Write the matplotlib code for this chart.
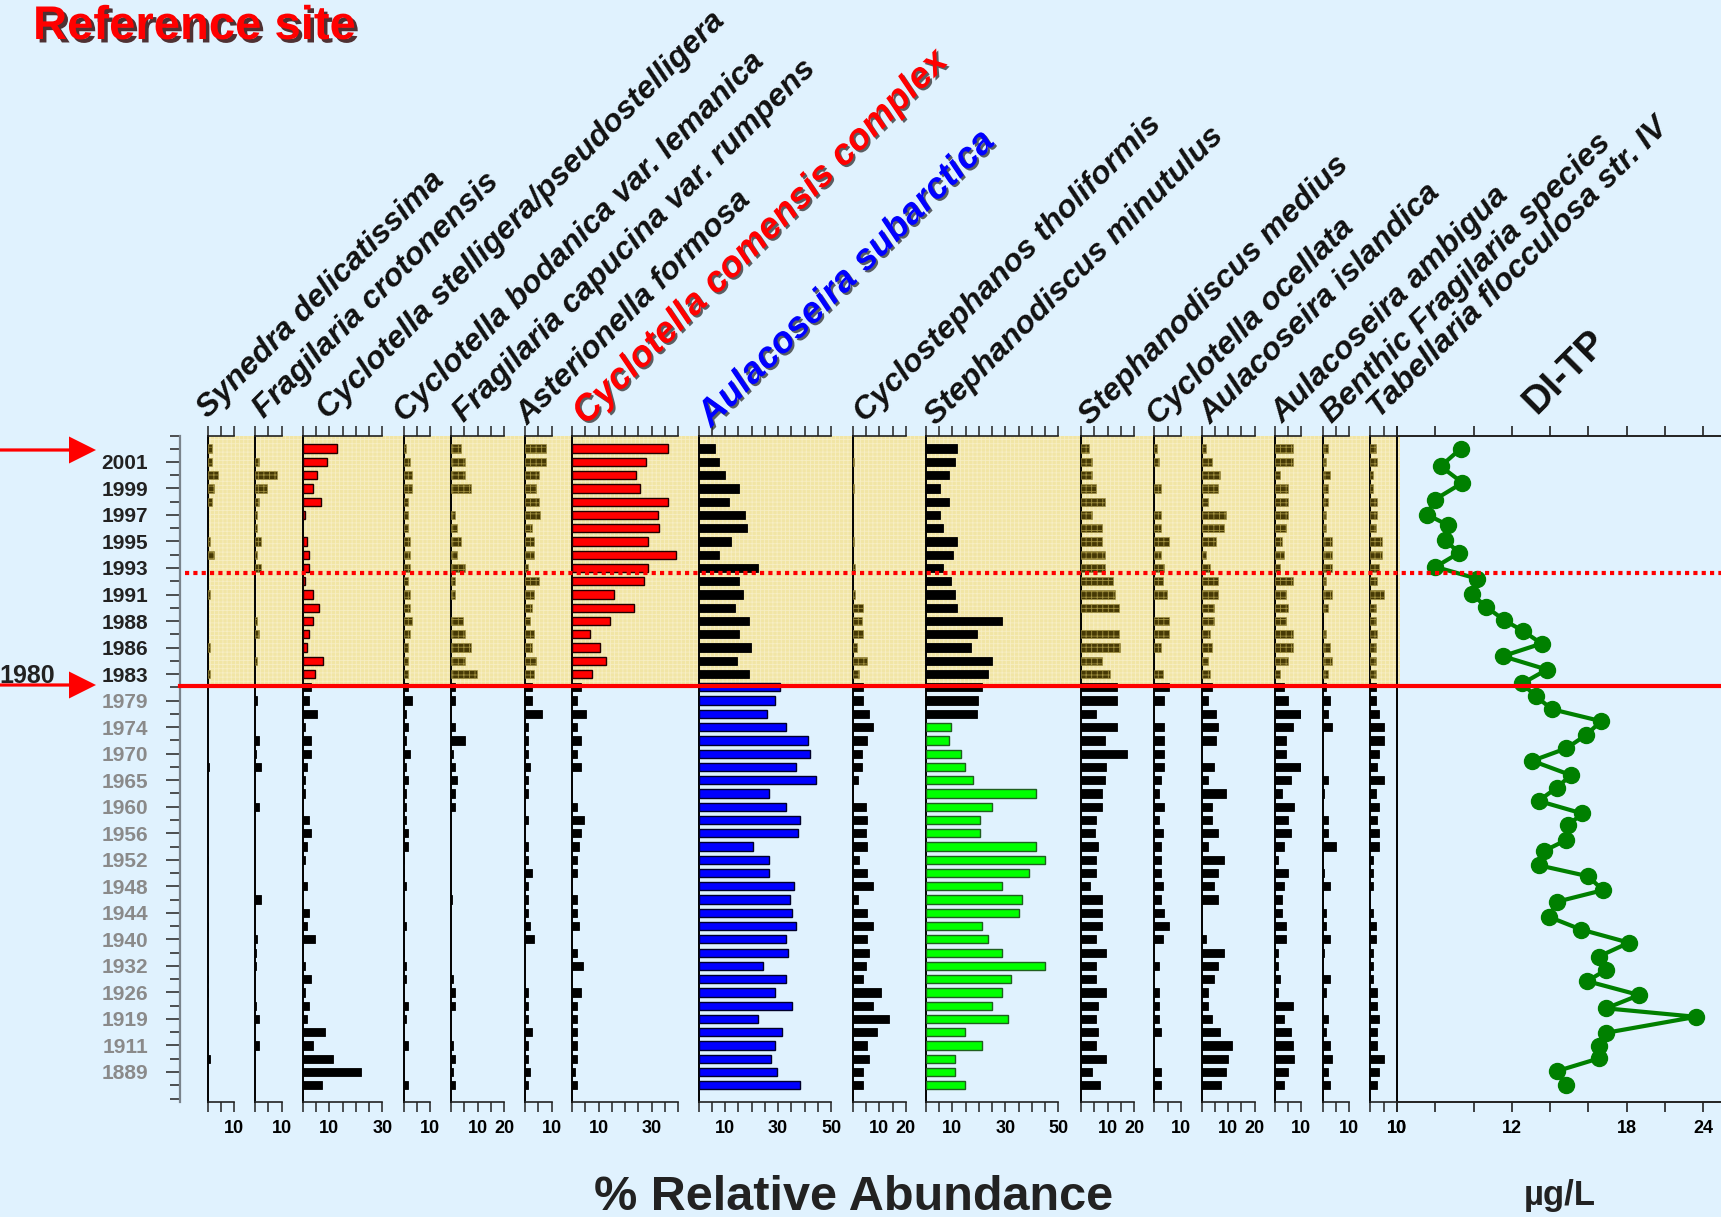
import numpy as np
import matplotlib
matplotlib.use("Agg")
import matplotlib.pyplot as plt
from matplotlib.patches import Rectangle, Polygon
from matplotlib.lines import Line2D
from matplotlib.transforms import blended_transform_factory
from matplotlib.ticker import FixedLocator, FuncFormatter, NullFormatter
import matplotlib.patheffects as pe

plt.rcParams["font.family"] = ["Liberation Sans", "DejaVu Sans"]
plt.rcParams["font.weight"] = "bold"
plt.rcParams["hatch.linewidth"] = 0.6

# ---------------------------------------------------------------- data
# sample ages labelled on every second sample (samples 1, 3, 5, ...)
year_labels = ["2001", "1999", "1997", "1995", "1993", "1991", "1988", "1986",
               "1983", "1979", "1974", "1970", "1965", "1960", "1956", "1952",
               "1948", "1944", "1940", "1932", "1926", "1919", "1911", "1889"]

# % relative abundance, top sample (0) to bottom sample (48)
synedra = [1.5, 1.5, 3.8, 2.3, 1.5, 0, 0, 0.9, 2.3, 0, 0, 0.8, 0, 0, 0, 0.8, 0, 0.8, 0, 0,
           0, 0, 0, 0, 0.4, 0, 0, 0, 0, 0, 0, 0.3, 0, 0, 0, 0, 0.3, 0, 0, 0,
           0.3, 0.3, 0, 0, 0, 0.3, 0.9, 0, 0]
frag_croton = [0, 1.5, 8.3, 4.4, 1.5, 0.8, 0.8, 2.3, 0.8, 2.3, 0, 0, 0, 0.8, 1.5, 0, 0.8, 0, 0, 0.9,
               0, 0, 1.5, 0.4, 2.3, 0, 0, 1.5, 0, 0, 0, 0, 0, 0, 2.3, 0, 0, 0.8, 0.4, 0.4,
               0, 0, 0.4, 1.5, 0, 1.5, 0, 0, 0]
cyc_stelligera = [12.9, 9.1, 5.3, 3.8, 6.8, 0.8, 0, 1.5, 2.3, 2.3, 0.8, 3.8, 6.1, 3.8, 2.3, 1.5, 7.6, 4.6, 3.0, 2.3,
                  5.4, 0.8, 3.0, 3.0, 1.5, 0.8, 0.8, 0, 2.4, 3.2, 1.6, 0.8, 0, 1.6, 0, 2.4, 1.6, 4.7, 0, 0.8,
                  3.2, 0.8, 2.4, 1.6, 8.4, 3.9, 11.4, 22.0, 7.1]
cyc_bodanica = [0.8, 2.3, 3.0, 3.0, 1.5, 1.5, 1.5, 2.3, 2.3, 2.3, 1.5, 2.3, 2.3, 3.0, 2.3, 1.5, 1.5, 1.5, 1.5, 3.0,
                0.8, 1.5, 0.8, 2.3, 0.8, 1.5, 0.8, 0.8, 0.8, 1.5, 1.5, 0.3, 0.3, 0.8, 0, 0, 0.8, 0, 0.3, 0.8,
                0.8, 0, 1.5, 0.8, 0, 1.5, 0, 0, 1.5]
frag_capucina = [3.8, 5.3, 5.3, 7.6, 0, 1.5, 2.3, 3.8, 2.3, 5.3, 1.5, 1.5, 0, 4.6, 5.3, 7.6, 5.3, 9.9, 1.5, 1.5,
                 0, 1.5, 5.3, 0.8, 1.5, 2.3, 1.5, 1.5, 0, 0, 0, 0, 0, 0, 0.3, 0, 0, 0, 0, 0,
                 0.8, 1.5, 1.5, 0, 0, 0.8, 1.5, 0.8, 1.5]
asterionella = [8.1, 8.1, 5.1, 4.3, 5.1, 5.8, 2.8, 3.5, 3.5, 1.2, 5.1, 3.5, 2.8, 2.0, 3.5, 2.8, 4.3, 3.5, 2.8, 2.8,
                6.6, 1.2, 1.2, 1.2, 2.0, 1.2, 1.2, 0, 1.2, 0, 1.2, 1.2, 2.8, 1.2, 1.2, 1.2, 2.0, 3.5, 0, 0,
                0, 1.2, 1.2, 1.2, 2.8, 1.2, 1.2, 2.0, 1.2]
cyc_comensis = [36.1, 28.0, 24.2, 25.7, 36.1, 32.3, 33.0, 28.7, 39.1, 28.7, 27.2, 15.8, 23.4, 14.3, 6.7, 10.5, 12.8, 7.5, 3.3, 1.8,
                5.3, 1.8, 3.3, 1.8, 3.3, 0, 0, 1.8, 4.4, 3.3, 2.5, 1.8, 1.8, 0, 1.8, 1.8, 2.5, 0, 1.8, 4.0,
                0, 3.3, 1.8, 1.8, 1.8, 1.8, 1.8, 1.0, 1.8]
aul_subarctica = [6.3, 7.8, 10.1, 15.3, 11.6, 17.6, 18.4, 12.3, 7.8, 22.6, 15.3, 16.9, 13.8, 19.0, 15.3, 19.7, 14.6, 19.0, 30.9, 28.7,
                  25.7, 33.1, 41.4, 42.1, 36.9, 44.3, 26.4, 33.1, 38.4, 37.6, 20.4, 26.4, 26.4, 36.1, 34.6, 35.3, 36.9, 33.1, 33.8, 24.2,
                  33.1, 28.7, 35.3, 22.6, 31.6, 28.7, 27.2, 29.4, 38.4]
cst_tholiformis = [0, 0.4, 0, 0.4, 0, 0, 0, 0.4, 0, 1.0, 0, 1.0, 4.0, 3.3, 4.0, 1.5, 5.5, 2.5, 4.0, 4.0,
                   6.3, 7.8, 5.5, 3.3, 3.3, 1.8, 0, 4.8, 5.5, 4.8, 5.5, 2.5, 5.5, 7.8, 1.8, 5.5, 7.8, 5.5, 6.3, 4.8,
                   4.0, 10.7, 7.8, 13.7, 9.3, 5.5, 6.3, 4.0, 4.0]
ste_minutulus = [11.6, 10.8, 8.6, 5.5, 8.6, 5.5, 6.3, 11.6, 10.1, 6.3, 9.3, 10.8, 11.6, 28.7, 19.1, 16.9, 24.9, 23.4, 21.1, 19.6,
                 19.1, 9.3, 8.6, 13.1, 14.6, 17.6, 41.4, 24.8, 20.4, 20.4, 41.4, 45.0, 39.0, 28.6, 36.1, 35.3, 21.1, 23.3, 28.6, 45.0,
                 32.3, 28.6, 24.8, 30.8, 14.6, 21.1, 10.8, 10.8, 14.6]
ste_medius = [2.9, 4.3, 4.3, 5.8, 8.9, 4.3, 8.1, 8.1, 8.9, 8.9, 11.9, 12.7, 14.2, 0, 14.2, 14.9, 8.1, 11.1, 13.4, 13.4,
              5.8, 13.4, 8.9, 17.2, 9.6, 9.0, 8.1, 8.1, 5.8, 5.1, 6.6, 5.8, 5.8, 3.5, 8.1, 8.1, 8.1, 5.8, 9.6, 5.8,
              5.8, 9.6, 6.6, 5.8, 6.6, 5.8, 9.6, 4.3, 7.3]
cyc_ocellata = [1.0, 1.8, 0, 2.4, 0, 2.4, 2.4, 5.4, 2.4, 3.8, 3.3, 4.8, 0, 5.4, 5.4, 2.4, 0, 3.3, 5.4, 3.8,
                0, 3.8, 3.8, 3.8, 3.8, 2.4, 1.8, 3.8, 1.8, 3.3, 2.4, 2.4, 2.4, 3.3, 2.4, 3.8, 5.4, 3.3, 0, 1.8,
                0, 1.8, 1.8, 1.8, 2.4, 0, 0, 2.4, 2.4]
aul_islandica = [1.6, 4.0, 6.8, 6.0, 2.3, 9.1, 8.3, 5.3, 1.6, 3.1, 6.0, 6.0, 4.6, 4.6, 3.1, 4.0, 2.3, 3.1, 4.0, 2.3,
                 5.3, 6.0, 5.3, 0, 4.6, 2.3, 9.1, 4.0, 4.0, 6.0, 2.3, 8.3, 6.0, 4.6, 6.0, 0, 0, 1.7, 8.3, 6.0,
                 4.6, 2.3, 2.3, 4.0, 6.8, 11.4, 10.0, 9.1, 7.5]
aul_ambigua = [6.7, 6.7, 2.1, 5.1, 5.1, 5.1, 4.4, 2.8, 3.6, 2.1, 6.7, 4.4, 5.1, 4.4, 6.7, 6.7, 5.1, 2.1, 3.6, 5.1,
               9.8, 6.7, 4.4, 4.4, 10.5, 6.0, 2.8, 7.4, 5.1, 6.0, 3.6, 1.3, 5.1, 3.6, 2.8, 2.8, 4.4, 4.4, 1.3, 1.3,
               2.1, 1.3, 6.7, 3.6, 6.0, 6.7, 7.4, 5.1, 3.6]
benthic_frag = [2.0, 1.3, 2.8, 2.0, 2.0, 1.3, 1.3, 3.6, 3.6, 3.6, 1.3, 3.6, 2.0, 0, 1.3, 2.8, 3.6, 2.0, 1.3, 2.8,
                2.0, 3.6, 0, 0, 0, 2.1, 0.6, 0, 2.1, 2.1, 5.1, 0, 0.6, 2.8, 0, 1.4, 1.4, 2.8, 0.6, 0,
                2.8, 1.4, 0, 2.1, 1.4, 2.8, 3.7, 2.1, 2.8]
tabellaria = [2.0, 2.7, 1.1, 1.1, 2.7, 2.7, 2.0, 4.3, 4.3, 3.4, 2.7, 5.0, 2.0, 2.0, 2.7, 2.0, 2.0, 2.0, 2.0, 2.0,
              3.4, 5.0, 5.0, 3.4, 2.7, 5.0, 2.0, 3.4, 2.7, 3.4, 3.4, 1.1, 1.1, 1.1, 0, 1.1, 2.0, 2.0, 1.1, 1.1,
              1.1, 2.7, 2.7, 3.4, 2.7, 2.7, 5.0, 3.4, 2.7]

# diatom-inferred total phosphorus (ug/L) and its sample positions
ditp_depth = [0, 1.33, 2.58, 3.84, 4.97, 5.78, 6.86, 7.86, 8.92, 9.80,
              10.98, 11.93, 12.94, 13.77, 14.70, 15.65, 16.66, 17.71, 18.67, 19.65,
              20.55, 21.6, 22.6, 23.54, 24.62, 25.58, 26.56, 27.51, 28.39, 29.52,
              30.33, 31.41, 32.24, 33.29, 34.17, 35.3, 36.26, 37.25, 38.3, 39.3,
              40.15, 41.2, 42.2, 42.84, 44.05, 45.03, 45.98, 46.94, 47.99]
ditp_tp = [11.11, 10.76, 11.14, 10.66, 10.52, 10.89, 10.83, 11.08, 10.67, 11.39,
           11.31, 11.55, 11.87, 12.60, 13.55, 11.84, 13.83, 12.54, 13.25, 14.09,
           16.66, 15.87, 14.84, 13.06, 15.08, 14.33, 13.39, 15.67, 14.94, 14.82,
           13.69, 13.39, 15.97, 16.76, 14.34, 13.93, 15.61, 18.17, 16.53, 16.92,
           15.93, 18.97, 16.92, 23.43, 16.90, 16.53, 16.53, 14.34, 14.84]
tp_tick_labels = [10, 12, 18, 24]

# zone boundaries (sample positions)
zone_1980 = 17.9
zone_1993 = 9.35

# ---------------------------------------------------------------- layout
W, H, DPI = 1721, 1217, 100
BG = "#E0F2FE"
SHADE = "#F1E5A5"
TOP_PX, BOT_PX = 436.0, 1101.7
YLIM = (49.24, -0.95)
PX_PER_PCT = 2.65
BAR_H = 0.62
TITLE_SHIFT = 12
TITLE_SIZE = 23
TITLE_SIZE_KEY = 26.5


def fx(px):
    return px / W


def fy(py):
    return 1.0 - py / H


AX_B = fy(BOT_PX)
AX_H = (BOT_PX - TOP_PX) / H

STYLES = {
    "tex": dict(facecolor="#463905", edgecolor="#a08f3e", hatch="+++", linewidth=0.4),
    "red": dict(facecolor="#FF0000", edgecolor="#200000", linewidth=1.0),
    "black": dict(facecolor="black", edgecolor="black", linewidth=0.6),
    "blue": dict(facecolor="#0000FF", edgecolor="#00002a", linewidth=1.0),
    "green": dict(facecolor="#00FF00", edgecolor="#1f5f1f", linewidth=1.0),
}

# name, values, axis max, labelled ticks, left edge px, upper style, lower style,
# first sample of lower style, title anchor (px), title colour, title size
panels = [
    ("Synedra delicatissima", synedra, 10, [10], 207.7, "tex", "black", 18, (196, 419), "#111111", TITLE_SIZE),
    ("Fragilaria crotonensis", frag_croton, 10, [10], 255.0, "tex", "black", 18, (252, 419), "#111111", TITLE_SIZE),
    ("Cyclotella stelligera/pseudostelligera", cyc_stelligera, 30, [10, 30], 302.8, "red", "black", 18, (316, 420), "#111111", TITLE_SIZE),
    ("Cyclotella bodanica var. lemanica", cyc_bodanica, 10, [10], 403.7, "tex", "black", 18, (393, 423), "#111111", TITLE_SIZE),
    ("Fragilaria capucina var. rumpens", frag_capucina, 20, [10, 20], 451.0, "tex", "black", 18, (452, 423), "#111111", TITLE_SIZE),
    ("Asterionella formosa", asterionella, 10, [10], 525.0, "tex", "black", 18, (516, 426), "#111111", TITLE_SIZE),
    ("Cyclotella comensis complex", cyc_comensis, 40, [10, 30], 572.0, "red", "black", 18, (574, 426), "#FF0000", TITLE_SIZE_KEY),
    ("Aulacoseira subarctica", aul_subarctica, 50, [10, 30, 50], 698.6, "black", "blue", 18, (699, 428), "#0000FF", TITLE_SIZE_KEY),
    ("Cyclostephanos tholiformis", cst_tholiformis, 20, [10, 20], 852.8, "tex", "black", 18, (853, 423), "#111111", TITLE_SIZE),
    ("Stephanodiscus minutulus", ste_minutulus, 50, [10, 30, 50], 925.9, "black", "green", 21, (924, 426), "#111111", TITLE_SIZE),
    ("Stephanodiscus medius", ste_medius, 20, [10, 20], 1081.0, "tex", "black", 18, (1078, 426), "#111111", TITLE_SIZE),
    ("Cyclotella ocellata", cyc_ocellata, 10, [10], 1154.3, "tex", "black", 18, (1146, 426), "#111111", TITLE_SIZE),
    ("Aulacoseira islandica", aul_islandica, 20, [10, 20], 1201.6, "tex", "black", 18, (1199, 425), "#111111", TITLE_SIZE),
    ("Aulacoseira ambigua", aul_ambigua, 10, [10], 1274.8, "tex", "black", 18, (1271, 424), "#111111", TITLE_SIZE),
    ("Benthic Fragilaria species", benthic_frag, 10, [10], 1322.6, "tex", "black", 18, (1320, 424), "#111111", TITLE_SIZE),
    ("Tabellaria flocculosa str. IV", tabellaria, 10, [10], 1370.3, "tex", "black", 18, (1367, 419), "#111111", TITLE_SIZE),
]

fig = plt.figure(figsize=(W / DPI, H / DPI), dpi=DPI, facecolor=BG)

# ---------------------------------------------------------------- age axis
ay = fig.add_axes([fx(180), AX_B, 0.0006, AX_H])
ay.patch.set_visible(False)
ay.set_ylim(*YLIM)
ay.set_xlim(0, 1)
for s in ("top", "right", "bottom"):
    ay.spines[s].set_visible(False)
ay.spines["left"].set_color("#7a838b")
ay.spines["left"].set_linewidth(1.6)
ay.set_xticks([])
label_pos = [2 * k + 1 for k in range(len(year_labels))]
ay.yaxis.set_major_locator(FixedLocator(label_pos))
ay.set_yticklabels(year_labels)
ay.yaxis.set_minor_locator(FixedLocator([-0.93] + list(range(0, 49, 2)) + [49]))
ay.tick_params(axis="y", which="major", length=10, width=1.2, color="#333333",
               pad=13, labelsize=15)
ay.tick_params(axis="y", which="minor", length=7, width=1.2, color="#333333")
for lab, yr in zip(ay.get_yticklabels(), year_labels):
    lab.set_color("#222222" if int(yr) >= 1983 else "#8a8a8a")

blend = blended_transform_factory(fig.transFigure, ay.transData)

# shaded recent zone behind the panels
fig.add_artist(Rectangle((fx(207.5), YLIM[1]), fx(1399.5) - fx(207.5), zone_1980 - YLIM[1],
                         transform=blend, facecolor=SHADE, edgecolor="#F7EEC4",
                         hatch="++++", linewidth=0, zorder=-1))

# ---------------------------------------------------------------- taxon panels
idx = np.arange(len(synedra))
for (name, vals, vmax, labs, left, up, low, switch, (tx, tyy), tcol, tsize) in panels:
    vals = np.asarray(vals, dtype=float)
    ax = fig.add_axes([fx(left), AX_B, vmax * PX_PER_PCT / W, AX_H])
    ax.patch.set_visible(False)
    ax.set_xlim(0, vmax)
    ax.set_ylim(*YLIM)
    for style, mask in ((up, idx < switch), (low, idx >= switch)):
        m = mask & (vals > 0)
        ax.barh(idx[m], vals[m], height=BAR_H, left=0, zorder=3, **STYLES[style])
    ax.spines["right"].set_visible(False)
    ax.spines["left"].set_color("black")
    ax.spines["left"].set_linewidth(1.4)
    for s in ("top", "bottom"):
        ax.spines[s].set_color("#222222")
        ax.spines[s].set_linewidth(1.2)
    ax.set_yticks([])
    ax.set_xticks(np.arange(0, vmax + 0.1, 5))
    ax.xaxis.set_major_formatter(FuncFormatter(
        lambda v, _p, labs=labs: f"{int(round(v))}" if int(round(v)) in labs else ""))
    ax.tick_params(axis="x", which="major", direction="out", length=7, width=1.1,
                   color="#222222", top=True, bottom=True, labeltop=False,
                   labelbottom=True, labelsize=13, pad=6)
    effects = None
    if tcol != "#111111":
        effects = [pe.withSimplePatchShadow(offset=(1.5, -1.5), shadow_rgbFace="#202020", alpha=0.7)]
    fig.text(fx(tx + TITLE_SHIFT), fy(tyy), name, rotation=45, rotation_mode="anchor",
             ha="left", va="baseline", fontsize=tsize, style="italic", weight="bold",
             color=tcol, path_effects=effects)

# ---------------------------------------------------------------- DI-TP panel
tp_anchor = np.array([0.0, 10.0, 12.0, 18.0, 24.0, 36.0])
pos_anchor = np.array([-15.0, 0.0, 3.0, 6.0, 8.0, 12.0])


def tp_fwd(v):
    return np.interp(v, tp_anchor, pos_anchor)


def tp_inv(p):
    return np.interp(p, pos_anchor, tp_anchor)


ad = fig.add_axes([fx(1397), AX_B, fx(W - 1397) + 0.002, AX_H])
ad.patch.set_visible(False)
ad.set_xscale("function", functions=(tp_fwd, tp_inv))
ad.set_xlim(10, float(tp_inv(8.55)))
ad.set_ylim(*YLIM)
ad.plot(ditp_tp, ditp_depth, "-o", color="#008000", lw=3, ms=11.5, zorder=3)
ad.spines["right"].set_visible(False)
ad.spines["left"].set_color("black")
ad.spines["left"].set_linewidth(1.4)
for s in ("top", "bottom"):
    ad.spines[s].set_color("#222222")
    ad.spines[s].set_linewidth(1.4)
ad.set_yticks([])
ad.xaxis.set_major_locator(FixedLocator(tp_tick_labels))
ad.xaxis.set_major_formatter(FuncFormatter(lambda v, _p: f"{v:g}"))
ad.xaxis.set_minor_locator(FixedLocator(list(tp_inv(np.array([1, 2, 4, 5, 7])))))
ad.xaxis.set_minor_formatter(NullFormatter())
for which in ("major", "minor"):
    ad.tick_params(axis="x", which=which, direction="out", length=7, width=1.2,
                   color="#222222", top=True, bottom=True, labeltop=False,
                   labelbottom=True, labelsize=13, pad=6)
fig.text(fx(1536), fy(415), "DI-TP", rotation=45, rotation_mode="anchor",
         ha="left", va="baseline", fontsize=28, weight="bold", color="#111111")

# ---------------------------------------------------------------- zone lines
fig.add_artist(Line2D([fx(180), 1.0], [zone_1980, zone_1980], transform=blend,
                      color="#FF0000", lw=3, zorder=10))
fig.add_artist(Line2D([fx(185), 1.0], [zone_1993, zone_1993], transform=blend,
                      color="#FF0000", lw=3, ls=(0, (1, 1)), zorder=10))


def arrow(y_px):
    shaft = [(0, y_px - 1.6), (69, y_px - 1.6), (69, y_px - 13.5), (96, y_px),
             (69, y_px + 13.5), (69, y_px + 1.6), (0, y_px + 1.6)]
    fig.add_artist(Polygon([(fx(x), fy(y)) for x, y in shaft], closed=True,
                           transform=fig.transFigure, facecolor="#FF0000",
                           edgecolor="none", zorder=11))


arrow(450)
arrow(685)
fig.text(fx(-1), fy(683), "1980", fontsize=18, weight="bold", color="#222222",
         ha="left", va="baseline")

# ---------------------------------------------------------------- captions
fig.text(fx(33), fy(39), "Reference site", fontsize=34, weight="bold", color="#FF0000",
         ha="left", va="baseline",
         path_effects=[pe.withSimplePatchShadow(offset=(2.5, -2.5), shadow_rgbFace="#2a0000", alpha=0.8)])
fig.text(fx(854), fy(1210), "% Relative Abundance", fontsize=35, weight="bold",
         color="#222222", ha="center", va="baseline")
fig.text(fx(1560), fy(1205), "\u00b5g/L", fontsize=25, weight="bold",
         color="#222222", ha="center", va="baseline")

fig.savefig("out.png", dpi=DPI, facecolor=BG)
